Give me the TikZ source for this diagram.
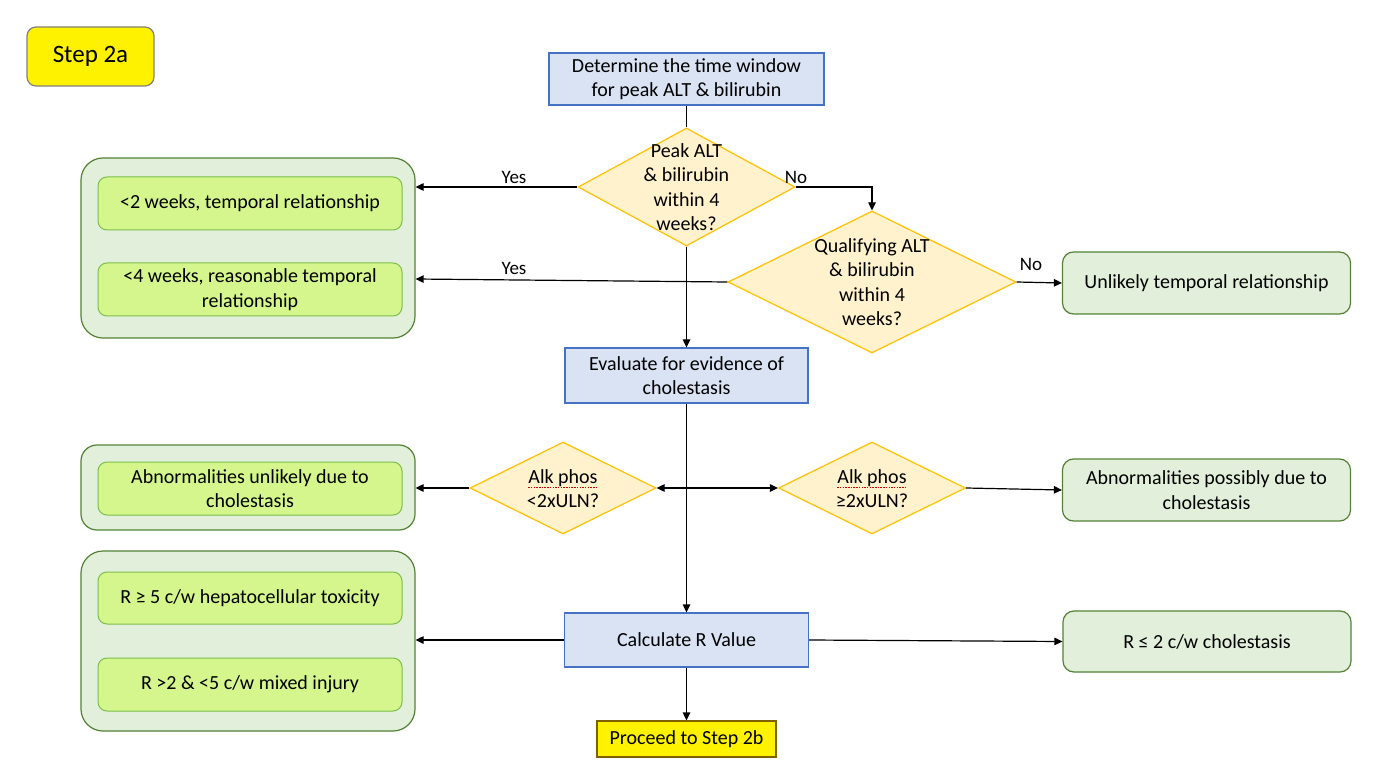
\documentclass[tikz,border=0pt]{standalone}
\usepackage{fontspec}
\setmainfont{Carlito}
\usetikzlibrary{shapes.geometric,arrows.meta}

\definecolor{procfill}{HTML}{DAE3F3}
\definecolor{procline}{HTML}{4472C4}
\definecolor{decfill}{HTML}{FFF2CC}
\definecolor{decline}{HTML}{FFC000}
\definecolor{grpfill}{HTML}{E2EFDA}
\definecolor{grpline}{HTML}{548235}
\definecolor{limefill}{HTML}{D5F68C}
\definecolor{limeline}{HTML}{7CBF4A}
\definecolor{nextline}{HTML}{7F6000}

\tikzset{
  every node/.style={font=\fontsize{20}{24.4}\selectfont, text=black},
  procbox/.style={draw=procline, fill=procfill, line width=1.2pt, inner sep=0pt, align=center},
  decbox/.style={diamond, draw=decline, fill=decfill, line width=1.2pt, inner sep=0pt, aspect=1},
  grpbox/.style={draw=grpline, fill=grpfill, line width=1.2pt, rounded corners=22pt, inner sep=0pt},
  limebox/.style={draw=limeline, fill=limefill, line width=1pt, rounded corners=9pt, inner sep=0pt, align=center, minimum width=304pt, minimum height=53pt},
  outbox/.style={draw=grpline, fill=grpfill, line width=1.2pt, rounded corners=11pt, inner sep=0pt, align=center, minimum width=288pt, minimum height=62pt},
  yellowbox/.style={fill=yellow, line width=1.2pt, inner sep=0pt, align=center},
  flow/.style={line width=1.2pt, draw=black, -{Triangle[length=8pt,width=7.5pt]}},
  plain/.style={line width=1.2pt, draw=black},
  answer/.style={font=\fontsize{19}{23}\selectfont},
  spellmark/.style={draw=red!80!black, line width=0.9pt, dash pattern=on 1.5pt off 1.2pt}
}

\begin{document}
\begin{tikzpicture}[x=1pt,y=-1pt]
\useasboundingbox[fill=white] (0,0) rectangle (1378,783);

% header tag
\node[yellowbox, draw=gray, rounded corners=9pt, minimum width=127pt, minimum height=59pt,
      font=\fontsize{25}{30}\selectfont] (tag) at (90.5,56.5) {Step 2a};

% main column
\node[procbox, minimum width=275pt, minimum height=52pt] (window) at (686.5,79)
  {Determine the time window\\for peak ALT \& bilirubin};
\node[decbox, minimum width=217pt, minimum height=118pt] (peak) at (686.5,187) {};
\node[align=center, inner sep=0pt] (peaktxt) at (peak.center) {Peak ALT\\\& bilirubin\\within 4\\weeks?};
\node[decbox, minimum width=288pt, minimum height=142pt] (qual) at (872,282) {};
\node[align=center, inner sep=0pt] (qualtxt) at (qual.center) {Qualifying ALT\\\& bilirubin\\within 4\\weeks?};
\node[outbox] (unlikely) at (1206.5,283) {Unlikely temporal relationship};

\node[procbox, minimum width=243pt, minimum height=55pt] (evaluate) at (686.5,375.5)
  {Evaluate for evidence of\\cholestasis};

\node[decbox, minimum width=186pt, minimum height=92pt] (lowalk) at (563,488) {};
\node[inner sep=0pt, anchor=base] (lowalka) at ([yshift=5pt]lowalk.center) {Alk phos};
\node[inner sep=0pt, anchor=base] (lowalkb) at ([yshift=-19pt]lowalk.center) {<2xULN?};
\node[decbox, minimum width=187pt, minimum height=92pt] (highalk) at (872,488) {};
\node[inner sep=0pt, anchor=base] (highalka) at ([yshift=5pt]highalk.center) {Alk phos};
\node[inner sep=0pt, anchor=base] (highalkb) at ([yshift=-19pt]highalk.center) {≥2xULN?};
\draw[spellmark] ([yshift=-4pt]lowalka.base west) -- ([yshift=-4pt]lowalka.base east);
\draw[spellmark] ([yshift=-4pt]highalka.base west) -- ([yshift=-4pt]highalka.base east);

\node[outbox] (possibly) at (1206.5,490) {Abnormalities possibly due to\\cholestasis};

\node[procbox, minimum width=244pt, minimum height=54pt] (rvalue) at (686.5,640) {Calculate R Value};
\node[outbox, minimum height=61pt] (rlow) at (1207,641.5) {R ≤ 2 c/w cholestasis};
\node[yellowbox, draw=nextline, minimum width=179pt, minimum height=36pt] (next) at (686.5,739)
  {Proceed to Step 2b};

% left outcome groups
\node[grpbox, minimum width=334pt, minimum height=180pt] (timegrp) at (248,248) {};
\node[limebox] (twoweeks) at (250,203.5) {<2 weeks, temporal relationship};
\node[limebox] (fourweeks) at (250,289.5) {<4 weeks, reasonable temporal\\relationship};

\node[grpbox, minimum width=334pt, minimum height=85pt, rounded corners=16pt] (cholgrp) at (248,487.5) {};
\node[limebox] (unlikelychol) at (250,488.5) {Abnormalities unlikely due to\\cholestasis};

\node[grpbox, minimum width=334pt, minimum height=180pt] (rgrp) at (248,641) {};
\node[limebox, minimum height=52pt] (rhigh) at (250,598) {R ≥ 5 c/w hepatocellular toxicity};
\node[limebox] (rmixed) at (250,684.5) {R >2 \& <5 c/w mixed injury};

% connectors
\coordinate (split) at (686.5,488);
\draw[plain] (window.south) -- (peak.north);
\draw[flow] (peak.west) -- (peak.west -| timegrp.east);
\draw[flow] (peak.east) -| (qual.north);
\draw[flow] (qual.west) -- ([yshift=-31pt]timegrp.east);
\draw[flow] (qual.east) -- (unlikely.west);
\draw[flow] (peak.south) -- (evaluate.north);
\draw[flow] (evaluate.south) -- (rvalue.north);
\draw[flow] (split) -- (lowalk.east);
\draw[flow] (split) -- (highalk.west);
\draw[flow] (lowalk.west) -- (lowalk.west -| cholgrp.east);
\draw[flow] (highalk.east) -- (possibly.west);
\draw[flow] (rvalue.west) -- (rvalue.west -| rgrp.east);
\draw[flow] (rvalue.east) -- (rlow.west);
\draw[flow] (rvalue.south) -- (next.north);

% branch labels
\node[answer] (yes1) at (514,177) {Yes};
\node[answer] (no1) at (796,177) {No};
\node[answer] (yes2) at (514,268) {Yes};
\node[answer] (no2) at (1031,264) {No};
\end{tikzpicture}
\end{document}
